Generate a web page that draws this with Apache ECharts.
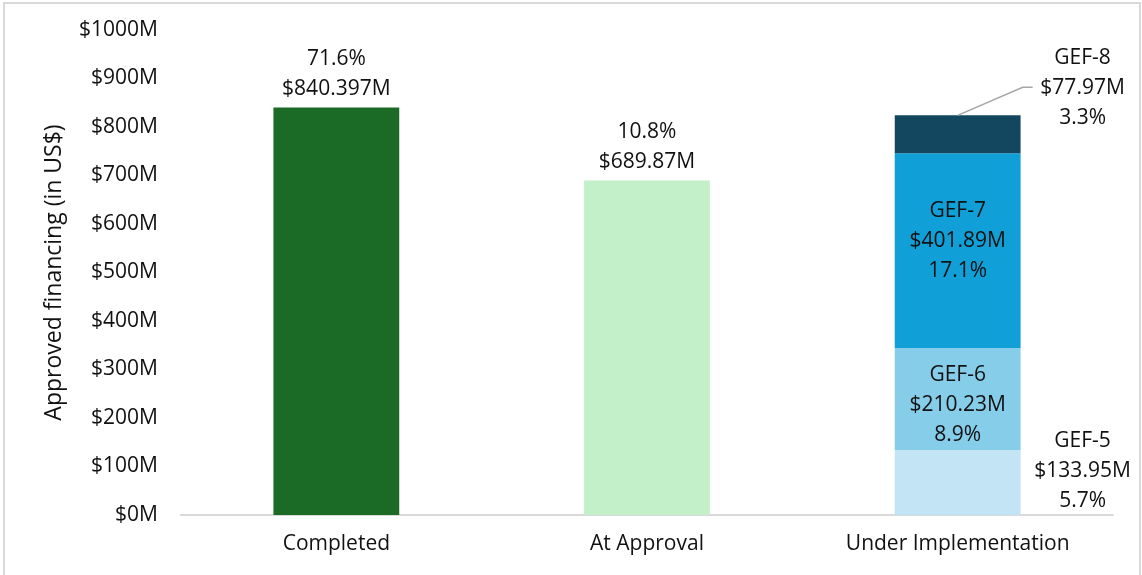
<!DOCTYPE html>
<html>
<head>
<meta charset="utf-8">
<script src="https://cdn.jsdelivr.net/npm/echarts@6/dist/echarts.min.js"></script>
<style>
  html, body { margin: 0; padding: 0; background: #fff; }
  #frame { position: absolute; left: 3px; top: 2px; width: 1134px; height: 590px; border: 2px solid #d9d9d9; }
  #main { position: absolute; left: 0; top: 0; width: 1142px; height: 575px; }
</style>
</head>
<body>
<div id="frame"></div>
<div id="main"></div>
<script>
// chart data (US$ millions)
var categories = ['Completed', 'At Approval', 'Under Implementation'];
var statusValues = [840.397, 689.87, '-'];
var statusShares = ['71.6%', '10.8%', ''];
var statusColors = ['#1b6b27', '#c3f0c8', '#fff'];
var gefPhases = ['GEF-5', 'GEF-6', 'GEF-7', 'GEF-8'];
var gefValues = [133.95, 210.23, 401.89, 77.97];
var gefShares = ['5.7%', '8.9%', '17.1%', '3.3%'];
var gefColors = ['#c2e4f5', '#86cdea', '#109fd6', '#12475f'];

var textColor = '#111';
var fontFamily = '"Open Sans", sans-serif';

var myChart = echarts.init(document.getElementById('main'));

var series = [{
    name: 'status',
    type: 'bar',
    stack: 'all',
    barWidth: '40.5%',
    data: statusValues.map(function (v, i) {
        return { value: v, itemStyle: { color: statusColors[i] } };
    }),
    label: {
        show: true,
        position: 'top',
        distance: 3,
        color: textColor,
        fontFamily: fontFamily,
        fontSize: 21,
        lineHeight: 30,
        formatter: function (p) {
            return statusShares[p.dataIndex] + '\n$' + p.value + 'M';
        }
    }
}];

gefPhases.forEach(function (phase, k) {
    var label = {
        show: true,
        color: textColor,
        fontFamily: fontFamily,
        fontSize: 21,
        lineHeight: 30,
        formatter: function (p) {
            return phase + '\n$' + p.value + 'M\n' + gefShares[k];
        }
    };
    if (k == 1 || k == 2) {
        label.position = 'inside';
        label.offset = k == 2 ? [0, -10] : [0, 6];
    } else {
        label.position = 'right';
        label.align = 'center';
        label.distance = 62;
        label.offset = k == 3 ? [0, -46] : [0, -12];
    }
    series.push({
        name: phase,
        type: 'bar',
        stack: 'all',
        barWidth: '40.5%',
        itemStyle: { color: gefColors[k] },
        label: label,
        data: categories.map(function (c, i) {
            return i == 2 ? gefValues[k] : '-';
        })
    });
});

// leader line from top of the GEF-8 segment to its label
var gefTotal = gefValues.reduce(function (a, b) { return a + b; }, 0);
series.push({
    type: 'custom',
    silent: true,
    z: 5,
    data: [[2, gefTotal]],
    renderItem: function (params, api) {
        var p = api.coord([api.value(0), api.value(1)]);
        return {
            type: 'polyline',
            shape: { points: [[p[0], p[1]], [p[0] + 65, p[1] - 28], [p[0] + 75, p[1] - 28]] },
            style: { stroke: '#a6a6a6', lineWidth: 1.5, fill: null }
        };
    }
});

var option = {
    backgroundColor: 'transparent',
    animation: false,
    grid: { left: 181, right: 29, top: 30, bottom: 60 },
    xAxis: {
        type: 'category',
        data: categories,
        axisTick: { show: false },
        axisLine: { lineStyle: { color: '#d9d9d9', width: 2 } },
        axisLabel: { color: textColor, fontFamily: fontFamily, fontSize: 21, margin: 19 }
    },
    yAxis: {
        type: 'value',
        min: 0,
        max: 1000,
        interval: 100,
        name: 'Approved financing (in US$)',
        nameLocation: 'middle',
        nameGap: 115,
        nameTextStyle: { color: textColor, fontFamily: fontFamily, fontSize: 23 },
        splitLine: { show: false },
        axisLine: { show: false },
        axisTick: { show: false },
        axisLabel: {
            color: textColor, fontFamily: fontFamily, fontSize: 21, margin: 23,
            formatter: function (v) { return '$' + v + 'M'; }
        }
    },
    series: series
};
myChart.setOption(option);
</script>
</body>
</html>
